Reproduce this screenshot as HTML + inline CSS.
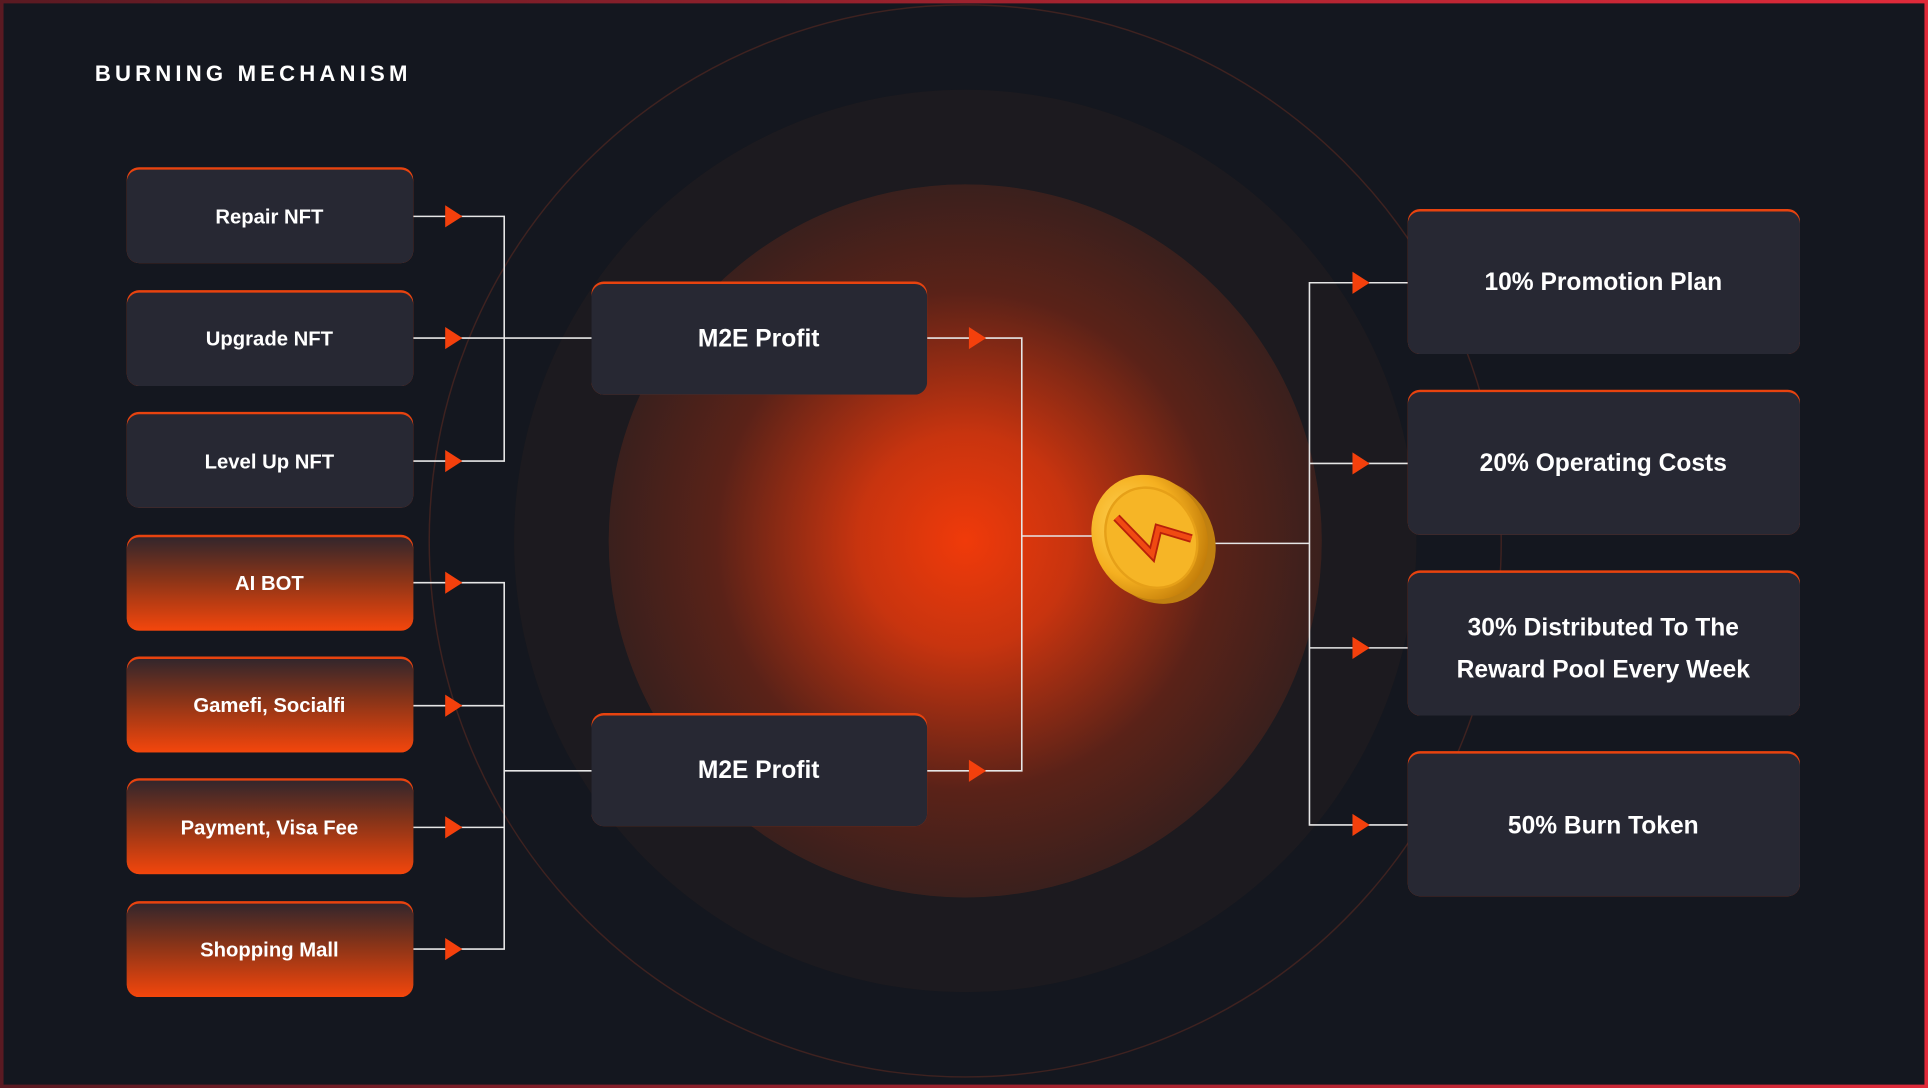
<!DOCTYPE html>
<html><head><meta charset="utf-8"><style>
html,body{margin:0;padding:0;background:#14171f;}
svg{display:block;}
text{font-family:"Liberation Sans",sans-serif;font-weight:bold;fill:#fff;}
</style></head><body>
<svg width="1928" height="1088" viewBox="0 0 1568 885" xmlns="http://www.w3.org/2000/svg">
<defs>
<radialGradient id="glow" cx="785" cy="440" r="290" gradientUnits="userSpaceOnUse">
<stop offset="0" stop-color="#f03a0a"/>
<stop offset="0.3" stop-color="#c8340f"/>
<stop offset="0.7" stop-color="#5a2218"/>
<stop offset="1" stop-color="#3a201d"/>
</radialGradient>
<linearGradient id="og" x1="0" y1="0" x2="0" y2="1">
<stop offset="0" stop-color="#33262c"/>
<stop offset="0.45" stop-color="#8a3418"/>
<stop offset="1" stop-color="#f4460c"/>
</linearGradient>
<linearGradient id="frame" x1="0" y1="0" x2="1" y2="0">
<stop offset="0" stop-color="#5a1a22"/>
<stop offset="1" stop-color="#e02a3a"/>
</linearGradient>
<radialGradient id="coin" cx="0.4" cy="0.35" r="0.7">
<stop offset="0" stop-color="#ffd65a"/>
<stop offset="0.6" stop-color="#f5b020"/>
<stop offset="1" stop-color="#c07a08"/>
</radialGradient>
</defs>
<rect width="1568" height="885" fill="#14171f"/>
<rect x="1" y="1" width="1566" height="883" fill="none" stroke="url(#frame)" stroke-width="3.5"/>
<circle cx="785" cy="440" r="436" fill="none" stroke="#3e2220" stroke-width="1.2"/>
<circle cx="785" cy="440" r="367" fill="#1c1a1f"/>
<circle cx="785" cy="440" r="290" fill="#2a1c1c"/>
<circle cx="785" cy="440" r="290" fill="url(#glow)"/>

<text x="77" y="66" font-size="18" letter-spacing="3.4">BURNING MECHANISM</text>

<g stroke="#e6e6e6" stroke-width="1.3" fill="none">
<polyline points="336,176 410,176 410,375 336,375"/>
<line x1="336" y1="275" x2="481" y2="275"/>
<polyline points="336,474 410,474 410,772 336,772"/>
<line x1="336" y1="574" x2="410" y2="574"/>
<line x1="336" y1="673" x2="410" y2="673"/>
<line x1="410" y1="627" x2="481" y2="627"/>
<polyline points="754,275 831,275 831,627 754,627"/>
<line x1="831" y1="436" x2="892" y2="436"/>
<line x1="980" y1="442" x2="1065" y2="442"/>
<polyline points="1145,230 1065,230 1065,671 1145,671"/>
<line x1="1065" y1="377" x2="1145" y2="377"/>
<line x1="1065" y1="527" x2="1145" y2="527"/>
</g>
<g fill="#f4400c">
<polygon points="362,167 376,176 362,185"/>
<polygon points="362,266 376,275 362,284"/>
<polygon points="362,366 376,375 362,384"/>
<polygon points="362,465 376,474 362,483"/>
<polygon points="362,565 376,574 362,583"/>
<polygon points="362,664 376,673 362,682"/>
<polygon points="362,763 376,772 362,781"/>
<polygon points="788,266 802,275 788,284"/>
<polygon points="788,618 802,627 788,636"/>
<polygon points="1100,221 1114,230 1100,239"/>
<polygon points="1100,368 1114,377 1100,386"/>
<polygon points="1100,518 1114,527 1100,536"/>
<polygon points="1100,662 1114,671 1100,680"/>
</g>

<g>
<rect x="103" y="136" width="233" height="78" rx="10" fill="#e8430f"/>
<rect x="103" y="138" width="233" height="76" rx="10" fill="#272833"/>
<rect x="103" y="236" width="233" height="78" rx="10" fill="#e8430f"/>
<rect x="103" y="238" width="233" height="76" rx="10" fill="#272833"/>
<rect x="103" y="335" width="233" height="78" rx="10" fill="#e8430f"/>
<rect x="103" y="337" width="233" height="76" rx="10" fill="#272833"/>
<rect x="103" y="435" width="233" height="78" rx="10" fill="#e8430f"/>
<rect x="103" y="437" width="233" height="76" rx="10" fill="url(#og)"/>
<rect x="103" y="534" width="233" height="78" rx="10" fill="#e8430f"/>
<rect x="103" y="536" width="233" height="76" rx="10" fill="url(#og)"/>
<rect x="103" y="633" width="233" height="78" rx="10" fill="#e8430f"/>
<rect x="103" y="635" width="233" height="76" rx="10" fill="url(#og)"/>
<rect x="103" y="733" width="233" height="78" rx="10" fill="#e8430f"/>
<rect x="103" y="735" width="233" height="76" rx="10" fill="url(#og)"/>
</g>
<g font-size="16.5" text-anchor="middle">
<text x="219" y="182">Repair NFT</text>
<text x="219" y="281">Upgrade NFT</text>
<text x="219" y="381">Level Up NFT</text>
<text x="219" y="480">AI BOT</text>
<text x="219" y="579">Gamefi, Socialfi</text>
<text x="219" y="679">Payment, Visa Fee</text>
<text x="219" y="778">Shopping Mall</text>
</g>

<rect x="481" y="229" width="273" height="92" rx="10" fill="#e8430f"/>
<rect x="481" y="231" width="273" height="90" rx="10" fill="#272833"/>
<rect x="481" y="580" width="273" height="92" rx="10" fill="#e8430f"/>
<rect x="481" y="582" width="273" height="90" rx="10" fill="#272833"/>
<g font-size="20" text-anchor="middle">
<text x="617" y="282">M2E Profit</text>
<text x="617" y="633">M2E Profit</text>
</g>

<g transform="rotate(-28 935 437)">
<ellipse cx="939" cy="443" rx="46" ry="52" fill="#c08010"/>
<ellipse cx="935" cy="437" rx="46" ry="52" fill="url(#coin)"/>
<ellipse cx="936" cy="438" rx="36" ry="42" fill="#f6b526" stroke="#e6a018" stroke-width="2"/>
</g>
<polyline points="908,421 937,451 942,430 969,438" fill="none" stroke="#b8200a" stroke-width="7" stroke-linejoin="miter"/>
<polyline points="908,421 937,451 942,430 969,438" fill="none" stroke="#f04a12" stroke-width="4" stroke-linejoin="miter"/>

<rect x="1145" y="170" width="319" height="118" rx="10" fill="#e8430f"/>
<rect x="1145" y="172" width="319" height="116" rx="10" fill="#272833"/>
<rect x="1145" y="317" width="319" height="118" rx="10" fill="#e8430f"/>
<rect x="1145" y="319" width="319" height="116" rx="10" fill="#272833"/>
<rect x="1145" y="464" width="319" height="118" rx="10" fill="#e8430f"/>
<rect x="1145" y="466" width="319" height="116" rx="10" fill="#272833"/>
<rect x="1145" y="611" width="319" height="118" rx="10" fill="#e8430f"/>
<rect x="1145" y="613" width="319" height="116" rx="10" fill="#272833"/>
<g font-size="20" text-anchor="middle">
<text x="1304" y="236">10% Promotion Plan</text>
<text x="1304" y="383">20% Operating Costs</text>
<text x="1304" y="517">30% Distributed To The</text>
<text x="1304" y="551">Reward Pool Every Week</text>
<text x="1304" y="678">50% Burn Token</text>
</g>
</svg>
</body></html>
